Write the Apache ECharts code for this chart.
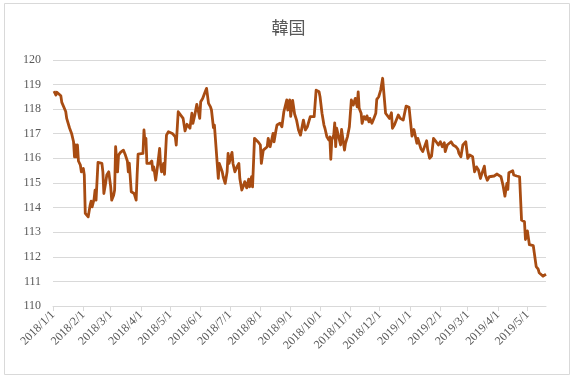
<!DOCTYPE html>
<html>
<head>
<meta charset="utf-8">
<script src="https://cdn.jsdelivr.net/npm/echarts@6/dist/echarts.min.js"></script>
<style>
html,body{margin:0;padding:0;background:#fff;}
#c{width:577px;height:380px;}
</style>
</head>
<body>
<div id="c"></div>
<script>
const title = '韓国';
const dates = [
'2018-01-02','2018-01-03','2018-01-04','2018-01-05','2018-01-07','2018-01-09','2018-01-10','2018-01-12','2018-01-14','2018-01-15',
'2018-01-16','2018-01-18','2018-01-20','2018-01-22','2018-01-23','2018-01-24','2018-01-25','2018-01-26','2018-01-27','2018-01-29',
'2018-01-30','2018-02-01','2018-02-02','2018-02-03','2018-02-04','2018-02-06','2018-02-08','2018-02-09','2018-02-10','2018-02-12',
'2018-02-13','2018-02-14','2018-02-16','2018-02-18','2018-02-20','2018-02-21','2018-02-22','2018-02-24','2018-02-25','2018-02-27',
'2018-03-01','2018-03-02','2018-03-04','2018-03-05','2018-03-06','2018-03-08','2018-03-09','2018-03-11','2018-03-14','2018-03-16',
'2018-03-18','2018-03-19','2018-03-20','2018-03-22','2018-03-25','2018-03-27','2018-03-28','2018-03-29','2018-03-31','2018-04-03',
'2018-04-04','2018-04-05','2018-04-06','2018-04-07','2018-04-09','2018-04-10','2018-04-12','2018-04-13','2018-04-14','2018-04-16',
'2018-04-18','2018-04-20','2018-04-21','2018-04-22','2018-04-24','2018-04-25','2018-04-27','2018-04-29','2018-05-01','2018-05-03',
'2018-05-06','2018-05-07','2018-05-09','2018-05-11','2018-05-14','2018-05-16','2018-05-18','2018-05-20','2018-05-21','2018-05-23',
'2018-05-24','2018-05-26','2018-05-28','2018-05-30','2018-05-31','2018-06-01','2018-06-03','2018-06-05','2018-06-07','2018-06-09',
'2018-06-11','2018-06-12','2018-06-14','2018-06-15','2018-06-17','2018-06-18','2018-06-19','2018-06-20','2018-06-22','2018-06-23',
'2018-06-24','2018-06-26','2018-06-28','2018-06-29','2018-06-30','2018-07-02','2018-07-03','2018-07-04','2018-07-06','2018-07-08',
'2018-07-10','2018-07-11','2018-07-13','2018-07-15','2018-07-16','2018-07-18','2018-07-20','2018-07-21','2018-07-23','2018-07-24',
'2018-07-26','2018-07-28','2018-07-30','2018-08-01','2018-08-02','2018-08-04','2018-08-06','2018-08-08','2018-08-09','2018-08-11',
'2018-08-13','2018-08-14','2018-08-15','2018-08-17','2018-08-18','2018-08-19','2018-08-21','2018-08-23','2018-08-25','2018-08-26',
'2018-08-28','2018-08-29','2018-08-31','2018-09-01','2018-09-03','2018-09-05','2018-09-07','2018-09-09','2018-09-11','2018-09-12',
'2018-09-14','2018-09-16','2018-09-18','2018-09-19','2018-09-21','2018-09-23','2018-09-25','2018-09-27','2018-09-30','2018-10-01',
'2018-10-03','2018-10-05','2018-10-06','2018-10-08','2018-10-10','2018-10-11','2018-10-12','2018-10-13','2018-10-15','2018-10-16',
'2018-10-17','2018-10-18','2018-10-20','2018-10-22','2018-10-23','2018-10-25','2018-10-26','2018-10-27','2018-10-29','2018-10-31',
'2018-11-02','2018-11-03','2018-11-04','2018-11-06','2018-11-08','2018-11-09','2018-11-10','2018-11-12','2018-11-13','2018-11-15',
'2018-11-17','2018-11-18','2018-11-20','2018-11-21','2018-11-23','2018-11-25','2018-11-27','2018-11-28','2018-11-30','2018-12-02',
'2018-12-04','2018-12-05','2018-12-07','2018-12-09','2018-12-11','2018-12-13','2018-12-14','2018-12-16','2018-12-18','2018-12-20',
'2018-12-22','2018-12-25','2018-12-27','2018-12-28','2018-12-31','2019-01-02','2019-01-03','2019-01-05','2019-01-07','2019-01-08',
'2019-01-09','2019-01-11','2019-01-12','2019-01-14','2019-01-16','2019-01-18','2019-01-19','2019-01-21','2019-01-23','2019-01-24',
'2019-01-25','2019-01-27','2019-01-29','2019-01-30','2019-02-01','2019-02-03','2019-02-05','2019-02-06','2019-02-08','2019-02-10',
'2019-02-12','2019-02-14','2019-02-17','2019-02-19','2019-02-20','2019-02-22','2019-02-24','2019-02-27','2019-03-01','2019-03-03',
'2019-03-06','2019-03-08','2019-03-10','2019-03-12','2019-03-14','2019-03-15','2019-03-18','2019-03-19','2019-03-21','2019-03-23',
'2019-03-25','2019-03-28','2019-03-31','2019-04-04','2019-04-06','2019-04-08','2019-04-10','2019-04-11','2019-04-12','2019-04-16',
'2019-04-17','2019-04-20','2019-04-23','2019-04-25','2019-04-28','2019-04-29','2019-05-01','2019-05-03','2019-05-07','2019-05-08',
'2019-05-10','2019-05-12','2019-05-13','2019-05-15','2019-05-17','2019-05-18','2019-05-20'
];
const values = [
118.73,118.81,118.57,118.68,118.60,118.54,118.27,118.22,117.90,117.62,
117.55,117.22,117.01,116.67,116.06,116.54,116.06,116.54,115.89,115.72,
115.45,115.59,115.32,113.76,113.69,113.62,114.10,114.26,114.03,114.34,
114.71,114.30,115.83,115.89,115.79,115.45,114.57,115.04,115.32,115.45,
114.84,114.30,114.50,114.71,116.47,115.45,116.13,116.24,116.33,116.13,
115.89,115.45,115.80,114.64,114.57,114.30,115.32,116.17,116.16,116.20,
117.15,116.67,116.81,115.79,115.86,115.79,115.89,115.52,115.65,115.11,
115.72,116.40,115.72,115.45,115.79,115.35,116.94,117.08,117.11,117.01,
116.87,116.54,117.89,117.83,117.62,117.11,117.38,117.32,117.22,117.83,
117.42,117.76,118.19,117.83,117.62,118.30,118.43,118.64,118.84,118.23,
118.09,117.96,117.25,117.35,116.27,115.72,115.18,115.79,115.83,115.45,
115.25,114.98,115.45,116.20,115.79,115.72,116.24,115.79,115.45,115.65,
115.79,115.18,114.71,114.91,115.05,114.80,115.15,114.84,115.25,114.84,
116.81,116.74,116.65,116.54,115.79,116.33,116.40,116.47,116.81,116.47,
116.50,117.01,116.67,117.15,117.35,117.38,117.42,117.28,117.89,117.92,
118.37,117.96,118.37,117.70,118.35,117.80,117.55,117.15,116.94,117.01,
117.55,117.15,117.28,117.42,117.69,117.62,117.69,118.77,118.70,118.50,
117.83,117.35,117.22,116.87,116.74,116.87,115.96,116.74,116.94,117.44,
116.47,117.22,117.17,116.54,117.17,117.15,116.33,116.61,116.87,117.28,
118.37,118.26,118.16,118.43,118.09,118.70,118.03,117.83,117.42,117.69,
117.58,117.72,117.48,117.62,117.42,117.62,117.83,118.39,118.50,118.77,
119.25,118.77,117.83,117.76,117.62,117.85,117.22,117.35,117.35,117.76,
117.62,117.55,117.58,118.12,118.07,117.99,116.90,117.17,117.15,116.61,
116.81,116.54,116.40,116.27,116.27,116.71,116.36,116.00,116.09,116.04,
116.81,116.71,116.67,116.54,116.67,116.47,116.63,116.27,116.54,116.61,
116.67,116.54,116.47,116.36,116.20,116.06,116.54,116.67,116.00,116.13,
116.06,115.45,115.65,115.52,115.18,115.32,115.68,115.32,115.11,115.25,
115.18,115.28,115.36,115.25,114.91,114.46,114.98,114.74,115.41,115.49,
115.32,115.28,115.25,113.49,113.42,112.70,113.05,112.49,112.45,112.40,
111.60,111.50,111.35,111.30,111.21,111.25,111.29
];
const monthTicks = [
'2018-01-01','2018-02-01','2018-03-01','2018-04-01','2018-05-01','2018-06-01',
'2018-07-01','2018-08-01','2018-09-01','2018-10-01','2018-11-01','2018-12-01',
'2019-01-01','2019-02-01','2019-03-01','2019-04-01','2019-05-01'
];
const xMin = '2018-01-01';
const xMax = '2019-05-20';
const yMin = 110, yMax = 120, yStep = 1;

function toTs(s){ const p=s.split('-'); return new Date(+p[0], +p[1]-1, +p[2]).getTime(); }
const tickTs = monthTicks.map(toTs);
const seriesData = dates.map((d,i)=>[toTs(d), values[i]]);

const chart = echarts.init(document.getElementById('c'), null, {renderer:'canvas'});
chart.setOption({
  animation:false,
  backgroundColor:'#ffffff',
  title:{
    text:title, left:'center', top:14,
    textStyle:{fontFamily:'"Noto Sans CJK JP"', fontSize:17, fontWeight:'normal', color:'#595959'}
  },
  grid:{left:53, right:31, top:59.8, bottom:74, containLabel:false},
  xAxis:{
    type:'value',
    min:toTs(xMin), max:toTs(xMax),
    splitLine:{show:false},
    axisLine:{show:true, lineStyle:{color:'#d9d9d9', width:1}},
    axisTick:{show:true, length:5, lineStyle:{color:'#d9d9d9'}, customValues:tickTs},
    axisLabel:{
      customValues:tickTs,
      rotate:45, margin:7,
      fontFamily:'"Liberation Serif", serif', fontSize:12, color:'#595959',
      formatter:function(v){ const d=new Date(v); return d.getFullYear()+'/'+(d.getMonth()+1)+'/'+d.getDate(); }
    }
  },
  yAxis:{
    type:'value', min:yMin, max:yMax, interval:yStep,
    axisLine:{show:false}, axisTick:{show:false},
    splitLine:{show:true, lineStyle:{color:'#d9d9d9', width:1}},
    axisLabel:{margin:12, fontFamily:'"Liberation Serif", serif', fontSize:12, color:'#595959'}
  },
  graphic:[{
    type:'rect', silent:true, z:-1,
    shape:{x:4.5, y:3.5, width:565, height:371},
    style:{fill:'none', stroke:'#d9d9d9', lineWidth:1}
  }],
  series:[{
    type:'line', data:seriesData, showSymbol:false, symbol:'none',
    lineStyle:{color:'#A84C12', width:2.8, join:'round'},
    itemStyle:{color:'#A84C12'}
  }]
});
</script>
</body>
</html>
